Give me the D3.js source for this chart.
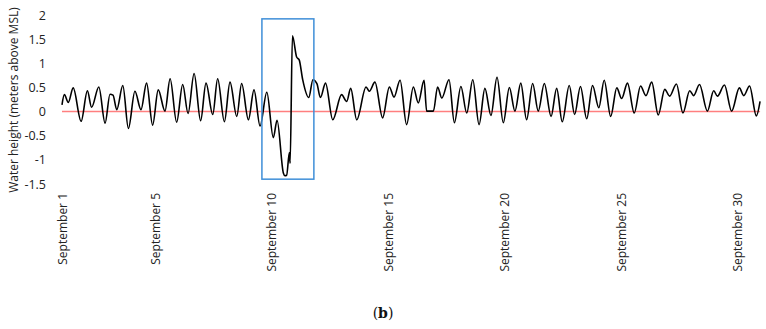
<!DOCTYPE html>
<html>
<head>
<meta charset="utf-8">
<script src="https://cdn.jsdelivr.net/npm/d3@7"></script>
<style>
  body { margin: 0; background: #fff; }
  svg { display: block; font-family: "Open Sans", sans-serif; }
</style>
</head>
<body>
<svg id="chart"></svg>
<script>
// water level turning points: [day of September, metres above MSL]
const tide = [
  [1.00, 0.14], [1.10, 0.35], [1.27, 0.19], [1.48, 0.49], [1.82, -0.20],
  [2.09, 0.43], [2.27, 0.09], [2.58, 0.51], [2.85, -0.24], [3.06, 0.36],
  [3.19, 0.34], [3.35, 0.04], [3.61, 0.54], [3.85, -0.35], [4.13, 0.42],
  [4.39, 0.04], [4.63, 0.59], [4.89, -0.28], [5.13, 0.45], [5.42, 0.01],
  [5.64, 0.68], [5.92, -0.22], [6.18, 0.56], [6.41, -0.04], [6.67, 0.79],
  [6.95, -0.19], [7.18, 0.59], [7.47, -0.06], [7.68, 0.68], [7.97, -0.21],
  [8.21, 0.61], [8.50, -0.10], [8.71, 0.58], [9.00, -0.17], [9.24, 0.45],
  [9.50, -0.30], [9.79, 0.40], [10.07, -0.54], [10.23, -0.18], [10.50, -1.27],
  [10.57, -1.33], [10.64, -1.32], [10.76, -0.85], [10.79, -1.07], [10.89, 1.57],
  [11.07, 1.13], [11.18, 1.07], [11.33, 0.66], [11.59, 0.29], [11.77, 0.66],
  [11.94, 0.58], [12.09, 0.29], [12.31, 0.59], [12.62, -0.17], [13.00, 0.35],
  [13.22, 0.21], [13.39, 0.48], [13.65, -0.17], [14.05, 0.51], [14.19, 0.42],
  [14.43, 0.61], [14.76, -0.13], [15.05, 0.51], [15.25, 0.30], [15.51, 0.65],
  [15.79, -0.27], [16.08, 0.51], [16.29, 0.18], [16.54, 0.65], [16.65, 0.01],
  [16.94, 0.01], [17.12, 0.51], [17.30, 0.28], [17.61, 0.66], [17.84, -0.23],
  [18.12, 0.52], [18.37, -0.03], [18.63, 0.66], [18.90, -0.27], [19.15, 0.48],
  [19.41, -0.08], [19.67, 0.71], [19.94, -0.23], [20.20, 0.50], [20.44, 0.01],
  [20.69, 0.59], [20.94, -0.17], [21.20, 0.58], [21.44, 0.01], [21.70, 0.58],
  [21.99, -0.10], [22.23, 0.48], [22.47, -0.21], [22.77, 0.54], [23.00, -0.06],
  [23.25, 0.52], [23.52, -0.15], [23.77, 0.54], [24.04, 0.08], [24.27, 0.65],
  [24.55, -0.10], [24.81, 0.49], [25.02, 0.27], [25.27, 0.59], [25.56, -0.03],
  [25.83, 0.53], [26.06, 0.33], [26.31, 0.61], [26.59, -0.07], [26.87, 0.46],
  [27.08, 0.32], [27.37, 0.57], [27.65, -0.03], [27.94, 0.43], [28.11, 0.33],
  [28.36, 0.56], [28.70, 0.01], [28.97, 0.43], [29.13, 0.32], [29.43, 0.55],
  [29.74, 0.01], [30.07, 0.49], [30.26, 0.33], [30.51, 0.53], [30.80, -0.09],
  [30.96, 0.21]
];

const yTicks = [-1.5, -1, -0.5, 0, 0.5, 1, 1.5, 2];
const xTickDays = [1, 5, 10, 15, 20, 25, 30];
const xTickLabels = ["September 1", "September 5", "September 10", "September 15",
  "September 20", "September 25", "September 30"];

// highlighted storm window (days, metres)
const stormBox = { from: 9.58, to: 11.81, top: 1.92, bottom: -1.40 };

const width = 766, height = 329;
const svg = d3.select("#chart").attr("width", width).attr("height", height);

const x = d3.scaleLinear().domain([1, 31]).range([62, 761]);
const y = d3.scaleLinear().domain([-1.5, 2]).range([184, 15]);

// y axis labels only
const yAxis = svg.append("g")
  .attr("transform", "translate(46,0)")
  .call(d3.axisLeft(y).tickValues(yTicks).tickSize(0).tickPadding(0)
    .tickFormat(d => String(d)));
yAxis.select(".domain").remove();
yAxis.selectAll("text")
  .attr("font-family", "Open Sans, sans-serif")
  .attr("font-size", 12.5)
  .attr("fill", "#222");

svg.append("text")
  .attr("transform", "translate(18,100) rotate(-90)")
  .attr("text-anchor", "middle")
  .attr("font-size", 12)
  .attr("fill", "#222")
  .text("Water height (meters above MSL)");

// x axis labels, rotated
const xAxis = svg.append("g")
  .attr("transform", "translate(0,193)")
  .call(d3.axisBottom(x).tickValues(xTickDays).tickSize(0)
    .tickFormat((d, i) => xTickLabels[i]));
xAxis.select(".domain").remove();
xAxis.selectAll("text")
  .attr("font-family", "Open Sans, sans-serif")
  .attr("font-size", 12)
  .attr("fill", "#222")
  .attr("text-anchor", "end")
  .attr("x", 0).attr("y", 0).attr("dy", "0.35em")
  .attr("transform", "rotate(-90)");

// zero reference line
svg.append("line")
  .attr("x1", x(1)).attr("x2", x(30.96))
  .attr("y1", y(0)).attr("y2", y(0))
  .attr("stroke", "#ff7f7f")
  .attr("stroke-width", 1.4);

const line = d3.line()
  .x(d => x(d[0]))
  .y(d => y(d[1]))
  .curve(d3.curveMonotoneX);

svg.append("path")
  .datum(tide)
  .attr("d", line)
  .attr("fill", "none")
  .attr("stroke", "#000")
  .attr("stroke-width", 1.6)
  .attr("stroke-linejoin", "round");

svg.append("rect")
  .attr("x", x(stormBox.from))
  .attr("y", y(stormBox.top))
  .attr("width", x(stormBox.to) - x(stormBox.from))
  .attr("height", y(stormBox.bottom) - y(stormBox.top))
  .attr("fill", "none")
  .attr("stroke", "#3f8fd8")
  .attr("stroke-width", 1.5);

// caption
const cap = svg.append("text")
  .attr("x", 383).attr("y", 318)
  .attr("text-anchor", "middle")
  .attr("font-family", "DejaVu Serif, serif")
  .attr("font-size", 14)
  .attr("fill", "#111");
cap.append("tspan").text("(");
cap.append("tspan").attr("font-weight", "bold").text("b");
cap.append("tspan").text(")");
</script>
</body>
</html>
